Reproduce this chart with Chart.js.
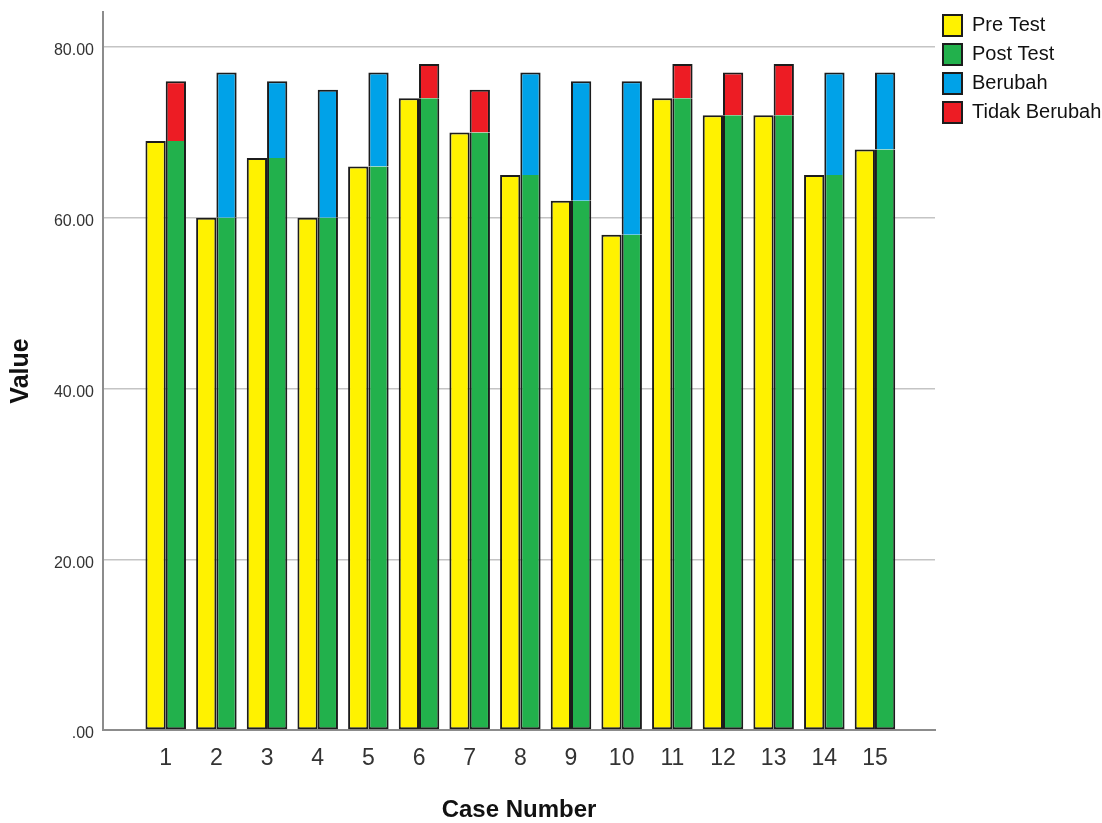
<!DOCTYPE html>
<html>
<head>
<meta charset="utf-8">
<script src="https://cdn.jsdelivr.net/npm/chart.js@4.4.1/dist/chart.umd.min.js"></script>
<style>
  html, body { margin: 0; padding: 0; background: #ffffff; }
  #wrap { width: 1102px; height: 823px; position: relative; }
</style>
</head>
<body>
<div id="wrap"><canvas id="c" width="1102" height="823"></canvas></div>
<script>
// ---- data ----
const cases = [1, 2, 3, 4, 5, 6, 7, 8, 9, 10, 11, 12, 13, 14, 15];
const preTest = [69, 60, 67, 60, 66, 74, 70, 65, 62, 58, 74, 72, 72, 65, 68];
const postTest = [69, 60, 67, 60, 66, 74, 70, 65, 62, 58, 74, 72, 72, 65, 68];
const berubah = [null, 17, 9, 15, 11, null, null, 12, 14, 18, null, null, null, 12, 9];
const tidakBerubah = [7, null, null, null, null, 4, 5, null, null, null, 4, 5, 6, null, null];
const yTickValues = [0, 20, 40, 60, 80];
const yTickLabels = ['.00', '20.00', '40.00', '60.00', '80.00'];
const seriesNames = ['Pre Test', 'Post Test', 'Berubah', 'Tidak Berubah'];

const FONT = '"Liberation Sans", Arial, sans-serif';
const BORDER = '#1c1c1c';

const datasets = [
  { label: seriesNames[0], data: preTest, stack: 'pre', backgroundColor: '#FFF200', borderColor: BORDER, borderWidth: 2, borderSkipped: false },
  { label: seriesNames[1], data: postTest, stack: 'post', backgroundColor: '#22B14C', borderColor: BORDER, borderWidth: 2, borderSkipped: 'top' },
  { label: seriesNames[2], data: berubah, stack: 'post', backgroundColor: '#00A2E8', borderColor: BORDER, borderWidth: 2, borderSkipped: 'bottom' },
  { label: seriesNames[3], data: tidakBerubah, stack: 'post', backgroundColor: '#ED1C24', borderColor: BORDER, borderWidth: 2, borderSkipped: 'bottom' }
];

new Chart(document.getElementById('c'), {
  type: 'bar',
  data: { labels: cases, datasets: datasets },
  options: {
    responsive: false,
    animation: false,
    devicePixelRatio: 1,
    layout: { padding: { top: 7, left: 0, right: 0, bottom: 0 } },
    datasets: { bar: { categoryPercentage: 0.8, barPercentage: 1.0 } },
    plugins: {
      tooltip: { enabled: false },
      legend: {
        position: 'right',
        align: 'start',
        maxWidth: 167,
        labels: {
          boxWidth: 19,
          boxHeight: 21,
          padding: 8,
          color: '#111',
          font: { family: FONT, size: 20 }
        }
      }
    },
    scales: {
      x: {
        type: 'linear',
        offset: false,
        min: -0.238,
        max: 16.185,
        grid: { display: false, offset: false },
        border: { display: true, color: '#8c8c8c', width: 2 },
        afterBuildTicks: (s) => { s.ticks = cases.map(v => ({ value: v })); },
        afterFit: (s) => { s.height = 93; s.paddingLeft = 0; s.paddingRight = 0; },
        ticks: {
          padding: 7,
          color: '#333',
          font: { family: FONT, size: 23 },
          callback: (v) => String(v)
        },
        title: {
          display: true,
          text: 'Case Number',
          color: '#111',
          font: { family: FONT, size: 24, weight: 'bold' },
          padding: { top: 20, bottom: -2 }
        }
      },
      y: {
        stacked: true,
        min: 0,
        max: 84.1,
        grid: { color: '#c4c4c4', lineWidth: 1.5, drawTicks: false },
        border: { display: true, color: '#8c8c8c', width: 2 },
        afterBuildTicks: (s) => { s.ticks = yTickValues.map(v => ({ value: v })); },
        afterFit: (s) => { s.width = 103; s.paddingTop = 12; s.paddingBottom = 0; },
        ticks: {
          padding: 9,
          labelOffset: 4,
          color: '#333',
          font: { family: FONT, size: 16 },
          callback: (v) => yTickLabels[yTickValues.indexOf(v)]
        },
        title: {
          display: true,
          text: 'Value',
          color: '#111',
          font: { family: FONT, size: 25, weight: 'bold' },
          padding: { top: 6, bottom: 10 }
        }
      }
    }
  }
});
</script>
</body>
</html>
